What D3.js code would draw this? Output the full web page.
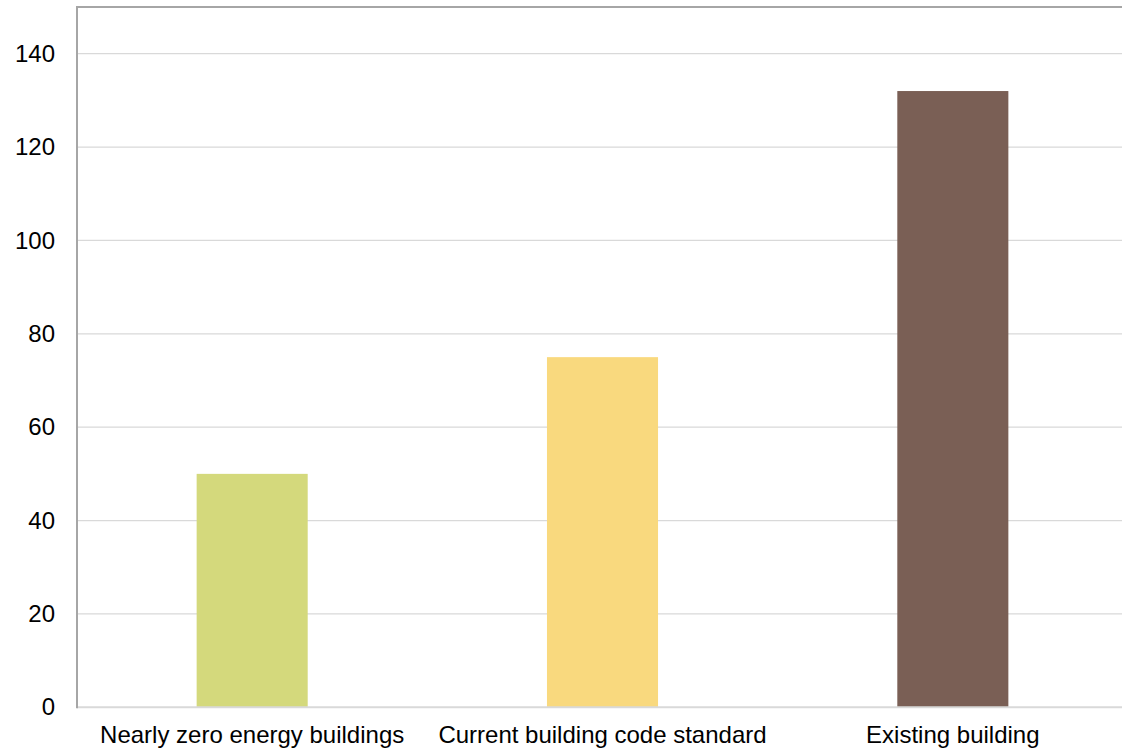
<!DOCTYPE html>
<html>
<head>
<meta charset="utf-8">
<script src="https://cdn.jsdelivr.net/npm/d3@7"></script>
<style>
  html, body { margin: 0; padding: 0; background: #fff; }
  svg { display: block; }
  text { font-family: Arial, "Liberation Sans", sans-serif; fill: #000; }
</style>
</head>
<body>
<svg id="chart" width="1122" height="751"></svg>
<script>
// Energy demand by building type
const categories = ["Nearly zero energy buildings", "Current building code standard", "Existing building"];
const values = [50, 75, 132];
const barColors = ["#d4d97c", "#f9d97e", "#7a5f55"];
const yTicks = [0, 20, 40, 60, 80, 100, 120, 140];
const yMax = 150;

const svg = d3.select("#chart");
const plotLeft = 77, plotRight = 1128, plotTop = 7, plotBottom = 707.3;

const x = d3.scaleBand().domain(categories).range([plotLeft, plotRight]).paddingInner(0.683).paddingOuter(0.3415);
const y = d3.scaleLinear().domain([0, yMax]).range([plotBottom, plotTop]);

// horizontal gridlines
svg.append("g")
  .selectAll("line")
  .data(yTicks.filter(d => d > 0))
  .join("line")
  .attr("x1", plotLeft).attr("x2", 1122)
  .attr("y1", d => y(d)).attr("y2", d => y(d))
  .attr("stroke", "#d9d9d9").attr("stroke-width", 1.3);

// bars
svg.append("g")
  .selectAll("rect")
  .data(values)
  .join("rect")
  .attr("x", (d, i) => x(categories[i]))
  .attr("width", x.bandwidth())
  .attr("y", d => y(d))
  .attr("height", d => y(0) - y(d))
  .attr("fill", (d, i) => barColors[i]);

// baseline
svg.append("line")
  .attr("x1", plotLeft).attr("x2", 1122)
  .attr("y1", y(0)).attr("y2", y(0))
  .attr("stroke", "#d9d9d9").attr("stroke-width", 2);

// top border of plot area
svg.append("line")
  .attr("x1", plotLeft - 1).attr("x2", 1122)
  .attr("y1", plotTop).attr("y2", plotTop)
  .attr("stroke", "#a6a6a6").attr("stroke-width", 2);

// left axis
const yAxis = d3.axisLeft(y).tickValues(yTicks).tickSize(0).tickPadding(22);
const gy = svg.append("g").attr("transform", `translate(${plotLeft},0)`).call(yAxis);
gy.select(".domain").attr("stroke", "#a6a6a6").attr("stroke-width", 2)
  .attr("d", `M0,${plotTop - 1}V${plotBottom + 1}`);
gy.selectAll("text").style("font-size", "24px").attr("font-family", "Arial, 'Liberation Sans', sans-serif").attr("fill", "#000");

// category labels
const xAxis = d3.axisBottom(x).tickSize(0).tickPadding(19);
const gx = svg.append("g").attr("transform", `translate(0,${plotBottom})`).call(xAxis);
gx.select(".domain").remove();
gx.selectAll("text").style("font-size", "24px").attr("font-family", "Arial, 'Liberation Sans', sans-serif").attr("fill", "#000");
</script>
</body>
</html>
